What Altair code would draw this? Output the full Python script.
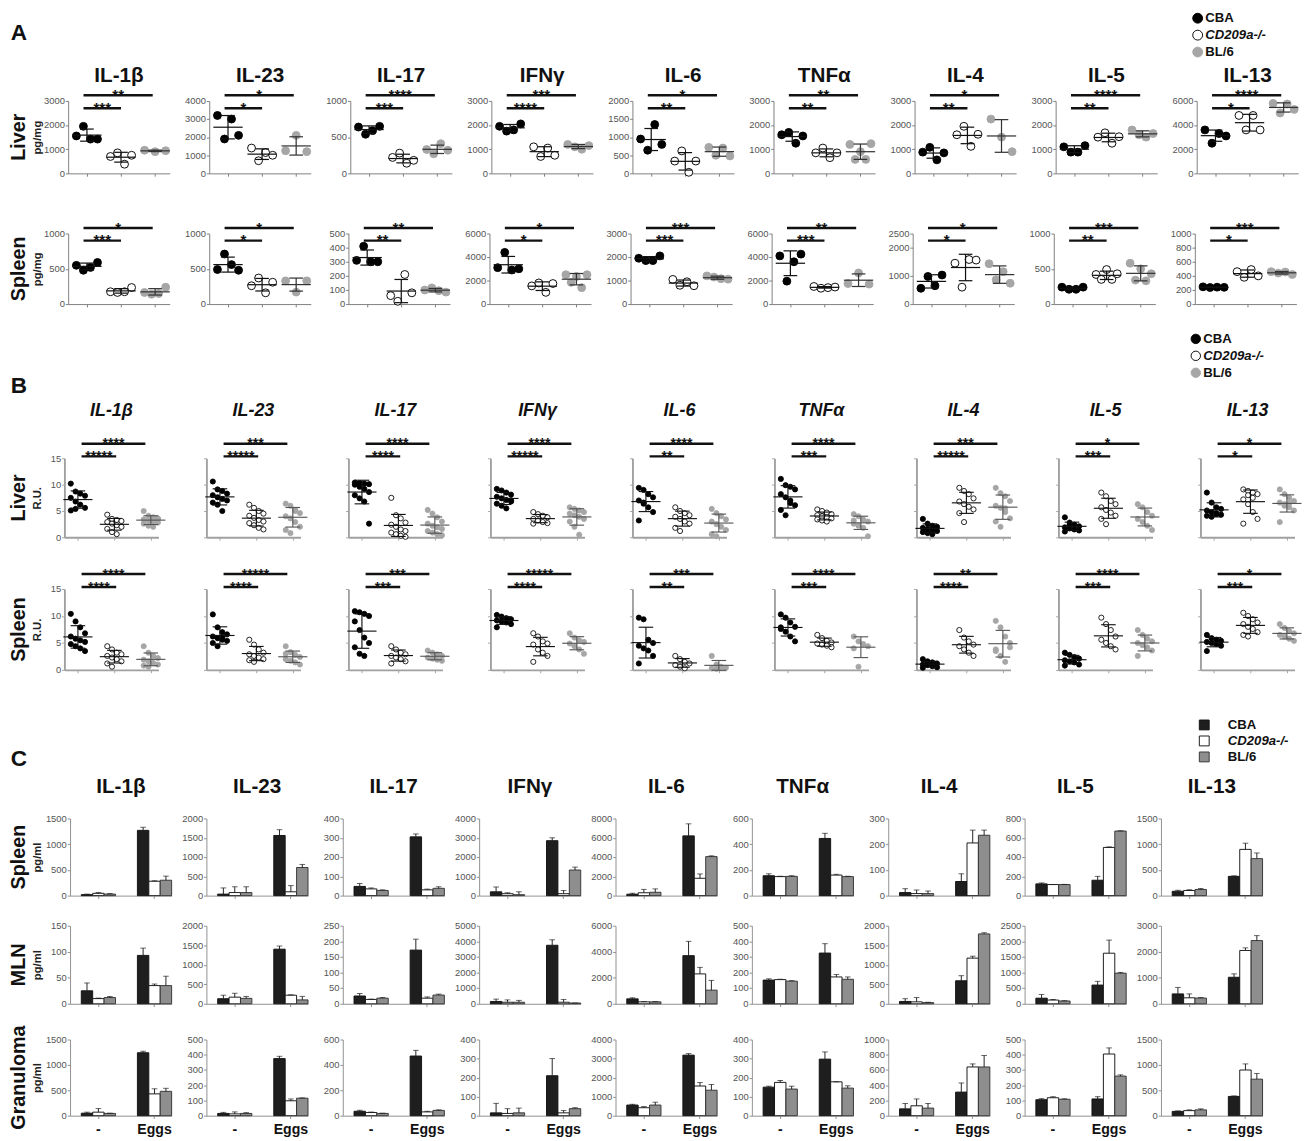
import altair as alt
import pandas as pd

FONT = "Liberation Sans"

CYTOKINES = ["IL-1β", "IL-23", "IL-17", "IFNγ", "IL-6", "TNFα", "IL-4", "IL-5", "IL-13"]
STRAINS = ["CBA", "CD209a-/-", "BL/6"]
CONDITIONS = ["-", "Eggs"]

# ===================== A : protein in tissue (pg/mg) =====================
A_LIVER_TICKS = [[0, 1000, 2000, 3000], [0, 1000, 2000, 3000, 4000], [0, 500, 1000],
                 [0, 1000, 2000, 3000], [0, 500, 1000, 1500, 2000], [0, 1000, 2000, 3000],
                 [0, 1000, 2000, 3000], [0, 1000, 2000, 3000], [0, 2000, 4000, 6000]]
A_LIVER_CBA = [[1550, 1950, 1420, 1420], [3200, 1900, 3000, 2100], [640, 540, 590, 650],
               [1950, 1750, 1800, 2050], [950, 640, 1350, 800], [1600, 1700, 1250, 1550],
               [880, 1080, 560, 850], [1100, 880, 880, 1150], [3600, 2500, 3300, 3100]]
A_LIVER_KO = [[700, 850, 380, 750], [1400, 700, 1150, 1000], [220, 280, 140, 180],
              [1100, 700, 1050, 750], [340, 620, 30, 340], [850, 1050, 650, 850],
              [1600, 1950, 1120, 1620], [1500, 1680, 1250, 1520], [4800, 3600, 4800, 3600]]
A_LIVER_B6 = [[960, 900, 940], [1250, 2100, 1200], [330, 270, 410, 320],
              [1200, 1100, 1000, 1150], [720, 500, 700, 480], [1200, 580, 900, 580, 1230],
              [2250, 1500, 900], [1800, 1600, 1500, 1650], [5800, 5000, 5750, 5300]]
A_LIVER_SIG_KO = ["***", "*", "***", "****", "**", "**", "**", "**", "*"]
A_LIVER_SIG_B6 = ["**", "*", "****", "***", "*", "**", "*", "****", "****"]

A_SPLEEN_TICKS = [[0, 500, 1000], [0, 500, 1000], [0, 100, 200, 300, 400, 500],
                  [0, 2000, 4000, 6000], [0, 1000, 2000, 3000], [0, 2000, 4000, 6000],
                  [0, 1000, 2000, 2500], [0, 500, 1000], [0, 200, 400, 600, 800, 1000]]
A_SPLEEN_CBA = [[550, 480, 520, 590], [490, 710, 560, 480], [310, 410, 300, 300],
                [3100, 4400, 2900, 3000], [1950, 1850, 1850, 2050], [4100, 1950, 3600, 4250],
                [560, 980, 650, 1030], [240, 210, 210, 240], [245, 235, 240, 238]]
A_SPLEEN_KO = [[175, 165, 175, 235], [260, 370, 160, 310], [60, 20, 210, 80],
               [1550, 1800, 1000, 1750], [1050, 800, 950, 780], [1500, 1350, 1400, 1450],
               [1450, 600, 1580, 1560], [420, 350, 490, 350, 430], [460, 380, 490, 400]]
A_SPLEEN_B6 = [[165, 140, 150, 240], [330, 170, 330], [100, 115, 95, 85],
               [2500, 1850, 2350, 1400, 2500], [1200, 1150, 1080, 1060], [1750, 2650, 1700],
               [1430, 860, 1150, 740], [580, 340, 500, 330, 430], [460, 440, 455, 420]]
A_SPLEEN_SIG_KO = ["***", "*", "**", "*", "***", "***", "*", "**", "*"]
A_SPLEEN_SIG_B6 = ["*", "*", "**", "*", "***", "**", "*", "***", "***"]

# ===================== B : mRNA (R.U.) =====================
B_TICKS = [0, 5, 10, 15]
B_LIVER_CBA = [[10.2, 8.7, 8.3, 7.9, 7.5, 6.8, 6.2, 5.6, 5.1, 5.4],
               [10.6, 9.1, 8.8, 8.3, 8.0, 7.6, 7.3, 7.0, 6.6, 6.2, 5.0],
               [10.4, 10.3, 10.2, 10.1, 10.0, 9.6, 9.2, 8.6, 8.0, 7.4, 6.8, 2.6],
               [9.2, 8.9, 8.5, 8.1, 7.7, 7.4, 7.1, 6.8, 6.4, 6.0, 5.5, 7.0],
               [9.4, 9.0, 8.2, 7.6, 7.0, 6.4, 5.7, 4.8, 3.2, 6.6],
               [11.1, 9.9, 9.6, 9.1, 8.2, 7.6, 7.0, 6.1, 5.2, 4.2, 6.5],
               [3.5, 2.6, 2.2, 2.0, 1.8, 1.6, 1.4, 1.2, 1.0, 0.8, 0.6],
               [3.8, 2.8, 2.4, 2.1, 1.9, 1.7, 1.5, 1.3, 1.1, 2.3],
               [8.5, 6.6, 5.7, 5.4, 5.1, 4.8, 4.6, 4.3, 4.1, 3.9, 4.4]]
B_LIVER_KO = [[4.3, 3.5, 3.3, 3.1, 2.9, 2.6, 2.3, 2.0, 1.6, 1.0, 0.6],
              [6.2, 5.6, 5.0, 4.5, 4.1, 3.7, 3.3, 3.0, 2.7, 2.3, 1.8, 1.5],
              [7.5, 4.2, 3.6, 2.8, 2.4, 2.0, 1.5, 1.2, 0.9, 0.6, 0.3, 0.1],
              [4.8, 4.4, 4.1, 3.8, 3.5, 3.2, 2.9, 2.7, 2.6],
              [5.7, 5.0, 4.6, 4.2, 3.9, 3.5, 3.0, 2.6, 1.8, 1.2],
              [5.3, 5.0, 4.7, 4.4, 4.2, 4.0, 3.8, 3.6, 3.4, 3.2, 3.0],
              [9.4, 8.8, 8.2, 7.4, 6.8, 6.3, 5.8, 5.3, 4.6, 2.9],
              [8.5, 7.8, 6.9, 6.3, 5.7, 5.2, 4.7, 4.1, 3.5, 2.5],
              [9.1, 8.8, 8.5, 8.2, 7.2, 6.3, 4.8, 3.5, 2.6, 8.0, 7.5]]
B_LIVER_B6 = [[5.0, 4.1, 3.8, 3.6, 3.4, 3.2, 3.0, 2.8, 2.6, 2.2, 2.0, 3.5],
              [6.4, 6.0, 5.2, 4.6, 4.0, 3.6, 2.9, 2.0, 1.4, 0.8, 5.0],
              [5.2, 4.5, 3.8, 3.0, 2.6, 2.2, 1.9, 1.6, 1.2, 0.9, 0.6, 0.4],
              [5.7, 5.4, 5.1, 4.8, 4.5, 4.2, 3.9, 3.5, 3.0, 2.0, 0.5],
              [5.4, 4.6, 4.0, 3.4, 3.0, 2.5, 2.0, 1.4, 0.6, 0.2],
              [4.4, 4.0, 3.4, 3.0, 2.6, 2.2, 1.8, 0.2, 3.2],
              [9.4, 8.4, 7.8, 6.9, 6.0, 5.6, 4.8, 3.6, 3.0, 2.0, 5.5],
              [6.3, 5.7, 4.8, 4.1, 3.5, 2.9, 2.2, 1.4],
              [9.1, 8.2, 7.5, 6.9, 6.6, 6.3, 5.7, 5.1, 2.9, 6.0, 6.5]]
B_LIVER_SIG_KO = ["*****", "*****", "****", "*****", "**", "***", "*****", "***", "*"]
B_LIVER_SIG_B6 = ["****", "***", "****", "****", "****", "****", "***", "*", "*"]

B_SPLEEN_CBA = [[10.4, 9.0, 7.9, 6.8, 6.2, 5.8, 5.5, 5.2, 4.8, 4.4, 4.0, 3.5],
                [10.3, 7.9, 7.0, 6.6, 6.2, 5.9, 5.6, 5.4, 5.0, 4.4, 6.0],
                [10.9, 10.7, 10.4, 10.0, 9.0, 7.4, 6.0, 5.0, 4.2, 3.0, 2.6],
                [10.2, 9.9, 9.6, 9.4, 9.2, 9.0, 8.8, 8.5, 7.9],
                [9.7, 9.4, 5.6, 5.0, 4.5, 4.0, 3.6, 2.6, 1.2],
                [10.3, 9.7, 8.8, 8.0, 7.6, 7.1, 6.2, 5.3, 7.9],
                [2.0, 1.6, 1.4, 1.2, 1.0, 0.9, 0.7, 0.5, 0.4],
                [3.2, 2.8, 2.4, 2.1, 1.8, 1.6, 1.4, 1.0, 0.8],
                [6.5, 5.9, 5.6, 5.4, 5.2, 5.0, 4.8, 4.5, 3.5]]
B_SPLEEN_KO = [[4.4, 3.8, 3.2, 2.9, 2.6, 2.3, 2.0, 1.6, 1.2, 0.6],
               [5.6, 4.7, 3.8, 3.2, 2.9, 2.6, 2.3, 2.0, 1.8, 1.5],
               [4.4, 3.8, 3.2, 2.9, 2.6, 2.3, 2.0, 1.6, 1.2],
               [6.8, 6.2, 5.3, 4.9, 4.7, 3.8, 3.2, 2.6, 1.5],
               [2.6, 2.0, 1.5, 1.2, 0.9, 0.6, 0.3],
               [6.5, 5.9, 5.4, 5.1, 4.9, 4.7, 4.5, 4.2],
               [7.4, 6.0, 5.3, 4.7, 4.4, 3.8, 3.2, 2.6],
               [9.7, 8.5, 7.4, 6.2, 5.6, 5.0, 4.4, 3.8],
               [10.6, 10.0, 9.4, 8.8, 8.5, 8.0, 7.6, 7.0, 6.5, 6.2]]
B_SPLEEN_B6 = [[4.4, 3.2, 2.6, 2.2, 1.9, 1.6, 1.3, 1.0, 0.8, 0.6],
               [4.4, 3.3, 2.8, 2.4, 2.0, 1.7, 1.4, 1.0, 3.0],
               [3.6, 3.2, 2.9, 2.6, 2.3, 2.1, 1.9, 1.7],
               [6.8, 6.0, 5.5, 5.2, 4.9, 4.4, 3.8, 3.0],
               [2.6, 1.0, 0.6, 0.4, 0.3, 0.2],
               [6.2, 5.3, 4.8, 4.4, 4.0, 0.6],
               [9.1, 7.9, 6.2, 5.0, 3.8, 2.6, 1.5, 4.2, 3.5],
               [7.4, 6.5, 5.8, 5.3, 5.0, 4.6, 4.2, 3.6, 2.6],
               [8.5, 7.8, 7.2, 6.8, 6.5, 6.2, 5.8, 5.4]]
B_SPLEEN_SIG_KO = ["****", "****", "***", "****", "**", "***", "****", "***", "***"]
B_SPLEEN_SIG_B6 = ["****", "*****", "***", "*****", "***", "****", "**", "****", "*"]

# ===================== C : restimulated cells (pg/ml) =====================
C_SPLEEN_TICKS = [[0, 500, 1000, 1500], [0, 500, 1000, 1500, 2000], [0, 100, 200, 300, 400],
                  [0, 1000, 2000, 3000, 4000], [0, 2000, 4000, 6000, 8000], [0, 200, 400, 600],
                  [0, 100, 200, 300], [0, 200, 400, 600, 800], [0, 500, 1000, 1500]]
C_SPLEEN_NONE = [[20, 45, 30], [40, 80, 80], [48, 35, 27], [200, 100, 50], [150, 300, 350],
                 [155, 148, 150], [12, 8, 8], [122, 115, 115], [85, 100, 120]]
C_SPLEEN_NONE_ERR = [[10, 15, 10], [160, 150, 150], [15, 5, 3], [250, 50, 150], [100, 350, 350],
                     [15, 3, 5], [15, 14, 10], [10, 2, 2], [20, 15, 20]]
C_SPLEEN_EGGS = [[1270, 280, 300], [1560, 100, 730], [305, 30, 38], [2850, 100, 1330],
                 [6200, 1800, 4050], [445, 160, 148], [55, 205, 235], [160, 500, 670], [375, 900, 720]]
C_SPLEEN_EGGS_ERR = [[60, 10, 80], [150, 160, 80], [15, 4, 8], [150, 170, 150], [1250, 450, 80],
                     [40, 6, 3], [30, 50, 20], [40, 6, 3], [10, 120, 110]]

C_MLN_TICKS = [[0, 50, 100, 150], [0, 500, 1000, 1500, 2000], [0, 50, 100, 150, 200, 250],
               [0, 1000, 2000, 3000, 4000, 5000], [0, 2000, 4000, 6000], [0, 100, 200, 300, 400, 500],
               [0, 500, 1000, 1500, 2000], [0, 500, 1000, 1500, 2000, 2500], [0, 1000, 2000, 3000]]
C_MLN_NONE = [[25, 10, 12], [130, 170, 140], [25, 14, 18], [150, 100, 100], [380, 150, 150],
              [152, 155, 145], [60, 50, 30], [180, 120, 90], [380, 230, 220]]
C_MLN_NONE_ERR = [[15, 1, 2], [90, 100, 50], [8, 1, 2], [150, 150, 120], [80, 20, 20],
                  [8, 3, 3], [70, 110, 10], [120, 20, 10], [250, 150, 25]]
C_MLN_EGGS = [[93, 35, 35], [1400, 220, 100], [172, 18, 28], [3750, 100, 50], [3700, 2300, 1050],
              [325, 172, 157], [590, 1170, 1790], [600, 1620, 980], [1020, 2050, 2430]]
C_MLN_EGGS_ERR = [[14, 3, 18], [80, 10, 90], [35, 4, 3], [350, 180, 0], [1100, 500, 750],
                  [60, 16, 15], [130, 50, 30], [120, 420, 25], [130, 100, 190]]

C_GRAN_TICKS = [[0, 500, 1000, 1500], [0, 100, 200, 300, 400, 500], [0, 200, 400, 600],
                [0, 100, 200, 300, 400], [0, 1000, 2000, 3000, 4000], [0, 100, 200, 300, 400],
                [0, 200, 400, 600, 800, 1000], [0, 100, 200, 300, 400, 500], [0, 500, 1000, 1500]]
C_GRAN_NONE = [[50, 70, 45], [15, 12, 15], [35, 25, 18], [15, 12, 15], [560, 420, 560],
               [150, 175, 140], [90, 130, 100], [105, 118, 108], [85, 100, 115]]
C_GRAN_NONE_ERR = [[20, 70, 5], [7, 13, 5], [8, 4, 2], [50, 25, 25], [40, 60, 150],
                   [5, 10, 15], [70, 90, 60], [7, 7, 3], [10, 15, 20]]
C_GRAN_EGGS = [[1240, 430, 480], [375, 98, 115], [470, 30, 42], [210, 15, 37], [3180, 1560, 1340],
               [297, 178, 145], [310, 640, 640], [110, 405, 260], [380, 900, 720]]
C_GRAN_EGGS_ERR = [[30, 100, 60], [15, 12, 2], [45, 5, 4], [90, 12, 5], [80, 180, 300],
                   [38, 0, 12], [120, 40, 150], [15, 40, 8], [10, 120, 110]]

# ===================== styling =====================
CFG_A = dict(w=108, xdom=[-0.55, 2.43], extent=24, all_labels=True, dw=1, axc="#7a7a7a",
             jitter="datum.gi + ((datum.rk - 1) - (datum.n - 1) / 2) * 0.62 / max(datum.n - 1, 1)",
             psize=70, pstroke=1, fills=["#000000", "#ffffff", "#a6a6a6"],
             strokes=["#000000", "#000000", "#a6a6a6"], mean_half=0.43, cap_half=0.2, lw=1.3,
             b6_line="#333333", bar_x0=-0.1, bar_ko=1.0, bar_b6=1.93, f_lo=0.9, f_hi=1.08,
             sig_w=2.6, star_fs=16, star_dy=5, title_fs=22, title_off=1, italic=False,
             label_w=22, label_gap=1, spacing=12)
CFG_B = dict(w=100, xdom=[-0.37, 2.21], extent=20, all_labels=False, dw=2, axc="#a0a0a0",
             jitter="datum.gi + (((datum.rk - 1) % 4) - 1.5) * 0.13",
             psize=30, pstroke=0.9, fills=["#000000", "#ffffff", "#8c8c8c"],
             strokes=["#000000", "#000000", "#8c8c8c"], mean_half=0.4, cap_half=0.2, lw=1.2,
             b6_line="#555555", bar_x0=0.1, bar_ko=1.05, bar_b6=1.85, f_lo=1.025, f_hi=1.185,
             sig_w=2.6, star_fs=15, star_dy=5, title_fs=19, title_off=19, italic=True,
             label_w=22, label_gap=1, spacing=21)
CFG_C = dict(w=108, extent=26, axc="#8c8c8c", fills=["#1e1e1e", "#ffffff", "#8e8e8e"],
             strokes=["#111111", "#111111", "#333333"],
             title_fs=22, title_off=17, label_w=22, label_gap=1, spacing=9)

ROW_A_LIVER = dict(label="Liver", unit="pg/mg", h=77, ticks=A_LIVER_TICKS, cba=A_LIVER_CBA,
                   ko=A_LIVER_KO, b6=A_LIVER_B6, sko=A_LIVER_SIG_KO, sb6=A_LIVER_SIG_B6)
ROW_A_SPLEEN = dict(label="Spleen", unit="pg/mg", h=75, ticks=A_SPLEEN_TICKS, cba=A_SPLEEN_CBA,
                    ko=A_SPLEEN_KO, b6=A_SPLEEN_B6, sko=A_SPLEEN_SIG_KO, sb6=A_SPLEEN_SIG_B6)
ROW_B_LIVER = dict(label="Liver", unit="R.U.", h=84, ticks=[B_TICKS] * 9, cba=B_LIVER_CBA,
                   ko=B_LIVER_KO, b6=B_LIVER_B6, sko=B_LIVER_SIG_KO, sb6=B_LIVER_SIG_B6)
ROW_B_SPLEEN = dict(label="Spleen", unit="R.U.", h=86, ticks=[B_TICKS] * 9, cba=B_SPLEEN_CBA,
                    ko=B_SPLEEN_KO, b6=B_SPLEEN_B6, sko=B_SPLEEN_SIG_KO, sb6=B_SPLEEN_SIG_B6)
ROW_C_SPLEEN = dict(label="Spleen", unit="pg/ml", h=82, ticks=C_SPLEEN_TICKS, none=C_SPLEEN_NONE,
                    none_err=C_SPLEEN_NONE_ERR, eggs=C_SPLEEN_EGGS, eggs_err=C_SPLEEN_EGGS_ERR)
ROW_C_MLN = dict(label="MLN", unit="pg/ml", h=83, ticks=C_MLN_TICKS, none=C_MLN_NONE,
                 none_err=C_MLN_NONE_ERR, eggs=C_MLN_EGGS, eggs_err=C_MLN_EGGS_ERR)
ROW_C_GRAN = dict(label="Granuloma", unit="pg/ml", h=81, ticks=C_GRAN_TICKS, none=C_GRAN_NONE,
                  none_err=C_GRAN_NONE_ERR, eggs=C_GRAN_EGGS, eggs_err=C_GRAN_EGGS_ERR)

LABEL_GREY = "#555555"


def y_axis(ticks, extent, unit, show_labels, dw, color):
    kw = dict(values=ticks, format="d", grid=False, labels=show_labels, minExtent=extent,
              maxExtent=extent, labelFont=FONT, labelFontSize=10, labelColor=LABEL_GREY,
              labelPadding=1, domainColor=color, tickColor=color, tickSize=3,
              domainWidth=dw, tickWidth=1)
    if unit:
        kw.update(title=unit, titleFont=FONT, titleFontSize=12, titleFontWeight="bold",
                  titleColor="#222222", titlePadding=2)
    else:
        kw["title"] = None
    return alt.Axis(**kw)


def col_title(text, cfg):
    kw = dict(text=text, font=FONT, fontSize=cfg["title_fs"], fontWeight="bold", color="#111111",
              anchor="middle", frame="group", offset=cfg["title_off"])
    if cfg.get("italic"):
        kw["fontStyle"] = "italic"
    return alt.Title(**kw)


def row_label(text, height, width):
    return (alt.Chart(pd.DataFrame({"t": [text]}))
            .mark_text(angle=270, font=FONT, fontSize=21, fontWeight="bold", color="#111111")
            .encode(text="t:N")
            .properties(width=width, height=height))


def legend_chart(shape, fills, strokes, label_x, pitch, sym_size):
    df = pd.DataFrame({"strain": STRAINS, "it": [False, True, False]})
    y = alt.Y("strain:N", scale=alt.Scale(type="band", domain=STRAINS, paddingInner=0, paddingOuter=0),
              axis=None)
    sym = alt.Chart(df).mark_point(filled=True, shape=shape, size=sym_size, strokeWidth=1,
                                   opacity=1).encode(
        x=alt.value(7), y=y,
        fill=alt.Fill("strain:N", scale=alt.Scale(domain=STRAINS, range=fills), legend=None),
        stroke=alt.Stroke("strain:N", scale=alt.Scale(domain=STRAINS, range=strokes), legend=None))
    style = dict(align="left", baseline="middle", font=FONT, fontSize=14, fontWeight="bold",
                 color="#111111")
    txt_n = (alt.Chart(df).transform_filter("!datum.it")
             .mark_text(**style).encode(x=alt.value(label_x), y=y, text="strain:N"))
    txt_i = (alt.Chart(df).transform_filter("datum.it")
             .mark_text(fontStyle="italic", **style).encode(x=alt.value(label_x), y=y, text="strain:N"))
    return alt.layer(sym, txt_n, txt_i).properties(width=100, height=3 * pitch)


def header(letter, height, baseline_y, legend, letter_w):
    let = (alt.Chart(pd.DataFrame({"t": [letter]}))
           .mark_text(font=FONT, fontSize=24, fontWeight="bold", color="#111111",
                      align="left", baseline="alphabetic")
           .encode(text="t:N", x=alt.value(2), y=alt.value(baseline_y))
           .properties(width=letter_w, height=height))
    return alt.hconcat(let, legend, spacing=0)


def scatter_panel(cfg, row, col, titled):
    ticks = row["ticks"][col]
    ymax = ticks[-1]
    recs = []
    for gi, vals in enumerate((row["cba"][col], row["ko"][col], row["b6"][col])):
        for v in vals:
            recs.append({"gi": gi, "strain": STRAINS[gi], "value": v})
    df = pd.DataFrame(recs)
    xs = alt.Scale(domain=cfg["xdom"], nice=False, zero=False)
    ys = alt.Scale(domain=[0, ymax], nice=False, zero=False)
    first = col == 0
    yax = y_axis(ticks, cfg["extent"], row["unit"] if first else None,
                 first or cfg["all_labels"], cfg["dw"], cfg["axc"])
    xax = alt.Axis(values=[0, 1, 2], labels=False, title=None, grid=False,
                   domainColor=cfg["axc"], tickColor=cfg["axc"], tickSize=3, domainWidth=cfg["dw"])
    base = alt.Chart(df)
    pts = (base.transform_window(rk="row_number()", n="count()", groupby=["gi"], frame=[None, None])
           .transform_calculate(xj=cfg["jitter"])
           .mark_point(filled=True, shape="circle", size=cfg["psize"], strokeWidth=cfg["pstroke"],
                       opacity=1)
           .encode(x=alt.X("xj:Q", scale=xs, axis=xax),
                   y=alt.Y("value:Q", scale=ys, axis=yax),
                   fill=alt.Fill("strain:N", scale=alt.Scale(domain=STRAINS, range=cfg["fills"]),
                                 legend=None),
                   stroke=alt.Stroke("strain:N", scale=alt.Scale(domain=STRAINS, range=cfg["strokes"]),
                                     legend=None)))
    stats = (base.transform_aggregate(m="mean(value)", sd="stdev(value)", groupby=["gi"])
             .transform_calculate(lo="datum.m - datum.sd", hi="datum.m + datum.sd"))
    lc = alt.condition("datum.gi == 2", alt.value(cfg["b6_line"]), alt.value("#111111"))
    hrules = (stats.transform_fold(["m", "hi", "lo"], as_=["kind", "yv"])
              .transform_calculate(
                  half=f"datum.kind == 'm' ? {cfg['mean_half']} : {cfg['cap_half']}",
                  xa="datum.gi - datum.half", xb="datum.gi + datum.half")
              .mark_rule(strokeWidth=cfg["lw"])
              .encode(x=alt.X("xa:Q", scale=xs, axis=xax), x2="xb:Q",
                      y=alt.Y("yv:Q", scale=ys, axis=yax), color=lc))
    vrule = stats.mark_rule(strokeWidth=cfg["lw"]).encode(
        x=alt.X("gi:Q", scale=xs, axis=xax), y=alt.Y("lo:Q", scale=ys, axis=yax), y2="hi:Q", color=lc)
    sdf = pd.DataFrame({"x1": [cfg["bar_x0"], cfg["bar_x0"]], "x2": [cfg["bar_ko"], cfg["bar_b6"]],
                        "y": [ymax * cfg["f_lo"], ymax * cfg["f_hi"]],
                        "s": [row["sko"][col], row["sb6"][col]]})
    sig = alt.Chart(sdf)
    sig_r = sig.mark_rule(strokeWidth=cfg["sig_w"], color="#111111").encode(
        x=alt.X("x1:Q", scale=xs, axis=xax), x2="x2:Q", y=alt.Y("y:Q", scale=ys, axis=yax))
    sig_t = (sig.transform_calculate(xm="(datum.x1 + datum.x2) / 2")
             .mark_text(font=FONT, fontSize=cfg["star_fs"], fontWeight="bold", color="#111111",
                        baseline="alphabetic", dy=cfg["star_dy"])
             .encode(x=alt.X("xm:Q", scale=xs, axis=xax), y=alt.Y("y:Q", scale=ys, axis=yax),
                     text="s:N"))
    layer = alt.layer(pts, hrules, vrule, sig_r, sig_t).properties(width=cfg["w"], height=row["h"])
    if titled:
        layer = layer.properties(title=col_title(CYTOKINES[col], cfg))
    return layer


def bar_panel(cfg, row, col, titled, bottom):
    ticks = row["ticks"][col]
    ymax = ticks[-1]
    recs = []
    for cond, vals, errs in ((CONDITIONS[0], row["none"][col], row["none_err"][col]),
                             (CONDITIONS[1], row["eggs"][col], row["eggs_err"][col])):
        for s, v, e in zip(STRAINS, vals, errs):
            recs.append({"cond": cond, "strain": s, "v": v, "e": e})
    df = pd.DataFrame(recs)
    xs = alt.Scale(domain=CONDITIONS, paddingInner=0.39, paddingOuter=0.1, align=1)
    xo = alt.XOffset("strain:N", scale=alt.Scale(domain=STRAINS, paddingInner=0, paddingOuter=0))
    ys = alt.Scale(domain=[0, ymax], nice=False, zero=False)
    first = col == 0
    yax = y_axis(ticks, cfg["extent"], row["unit"] if first else None, True, 1, cfg["axc"])
    xax = alt.Axis(title=None, grid=False, labels=bottom, labelAngle=0, labelFont=FONT,
                   labelFontSize=15, labelFontWeight="bold", labelColor="#111111", labelPadding=4,
                   domainColor=cfg["axc"], tickColor=cfg["axc"], tickSize=3)
    base = alt.Chart(df)
    bars = base.mark_bar(strokeWidth=1).encode(
        x=alt.X("cond:N", scale=xs, axis=xax, sort=CONDITIONS), xOffset=xo,
        y=alt.Y("v:Q", scale=ys, axis=yax),
        fill=alt.Fill("strain:N", scale=alt.Scale(domain=STRAINS, range=cfg["fills"]), legend=None),
        stroke=alt.Stroke("strain:N", scale=alt.Scale(domain=STRAINS, range=cfg["strokes"]),
                          legend=None))
    tops = base.transform_calculate(top="datum.v + datum.e")
    err = tops.mark_rule(color="#1a1a1a", strokeWidth=1).encode(
        x=alt.X("cond:N", scale=xs, axis=xax, sort=CONDITIONS), xOffset=xo,
        y=alt.Y("v:Q", scale=ys, axis=yax), y2="top:Q")
    cap = tops.mark_tick(color="#1a1a1a", thickness=1, size=6, orient="horizontal").encode(
        x=alt.X("cond:N", scale=xs, axis=xax, sort=CONDITIONS), xOffset=xo,
        y=alt.Y("top:Q", scale=ys, axis=yax))
    layer = alt.layer(bars, err, cap).properties(width=cfg["w"], height=row["h"])
    if titled:
        layer = layer.properties(title=col_title(CYTOKINES[col], cfg))
    return layer


def assemble_row(cfg, row, panels):
    lab = row_label(row["label"], row["h"], cfg["label_w"])
    head = alt.hconcat(lab, panels[0], spacing=cfg["label_gap"])
    return alt.hconcat(head, *panels[1:], spacing=cfg["spacing"])


def scatter_row(cfg, row, titled):
    return assemble_row(cfg, row, [scatter_panel(cfg, row, c, titled) for c in range(9)])


def bar_row(cfg, row, titled, bottom):
    return assemble_row(cfg, row, [bar_panel(cfg, row, c, titled, bottom) for c in range(9)])


LEG_A = legend_chart("circle", CFG_A["fills"], CFG_A["strokes"], 15, 18, 110)
LEG_B = legend_chart("circle", CFG_B["fills"], CFG_B["strokes"], 15, 18, 100)
LEG_C = legend_chart("square", CFG_C["fills"], CFG_C["strokes"], 32, 17, 110)

sec_a = alt.vconcat(
    header("A", 57, 32, LEG_A, 1255),
    alt.vconcat(scatter_row(CFG_A, ROW_A_LIVER, True),
                scatter_row(CFG_A, ROW_A_SPLEEN, False), spacing=43),
    spacing=0)
sec_b = alt.vconcat(
    header("B", 66, 66, LEG_B, 1253),
    alt.vconcat(scatter_row(CFG_B, ROW_B_LIVER, True),
                scatter_row(CFG_B, ROW_B_SPLEEN, False), spacing=25),
    spacing=2)
sec_c = alt.vconcat(
    header("C", 52, 52, LEG_C, 1262),
    alt.vconcat(alt.vconcat(bar_row(CFG_C, ROW_C_SPLEEN, True, False),
                            bar_row(CFG_C, ROW_C_MLN, False, False), spacing=20),
                bar_row(CFG_C, ROW_C_GRAN, False, True), spacing=17),
    spacing=4)

chart = (alt.vconcat(alt.vconcat(sec_a, sec_b, spacing=21), sec_c, spacing=43)
         .resolve_scale(fill="independent", stroke="independent")
         .properties(padding={"left": 0, "top": -36, "right": 0, "bottom": 0})
         .configure_view(stroke="transparent")
         .configure_text(font=FONT)
         .configure_title(font=FONT))

chart.save("out.html", embed_options={"renderer": "svg", "actions": False})
